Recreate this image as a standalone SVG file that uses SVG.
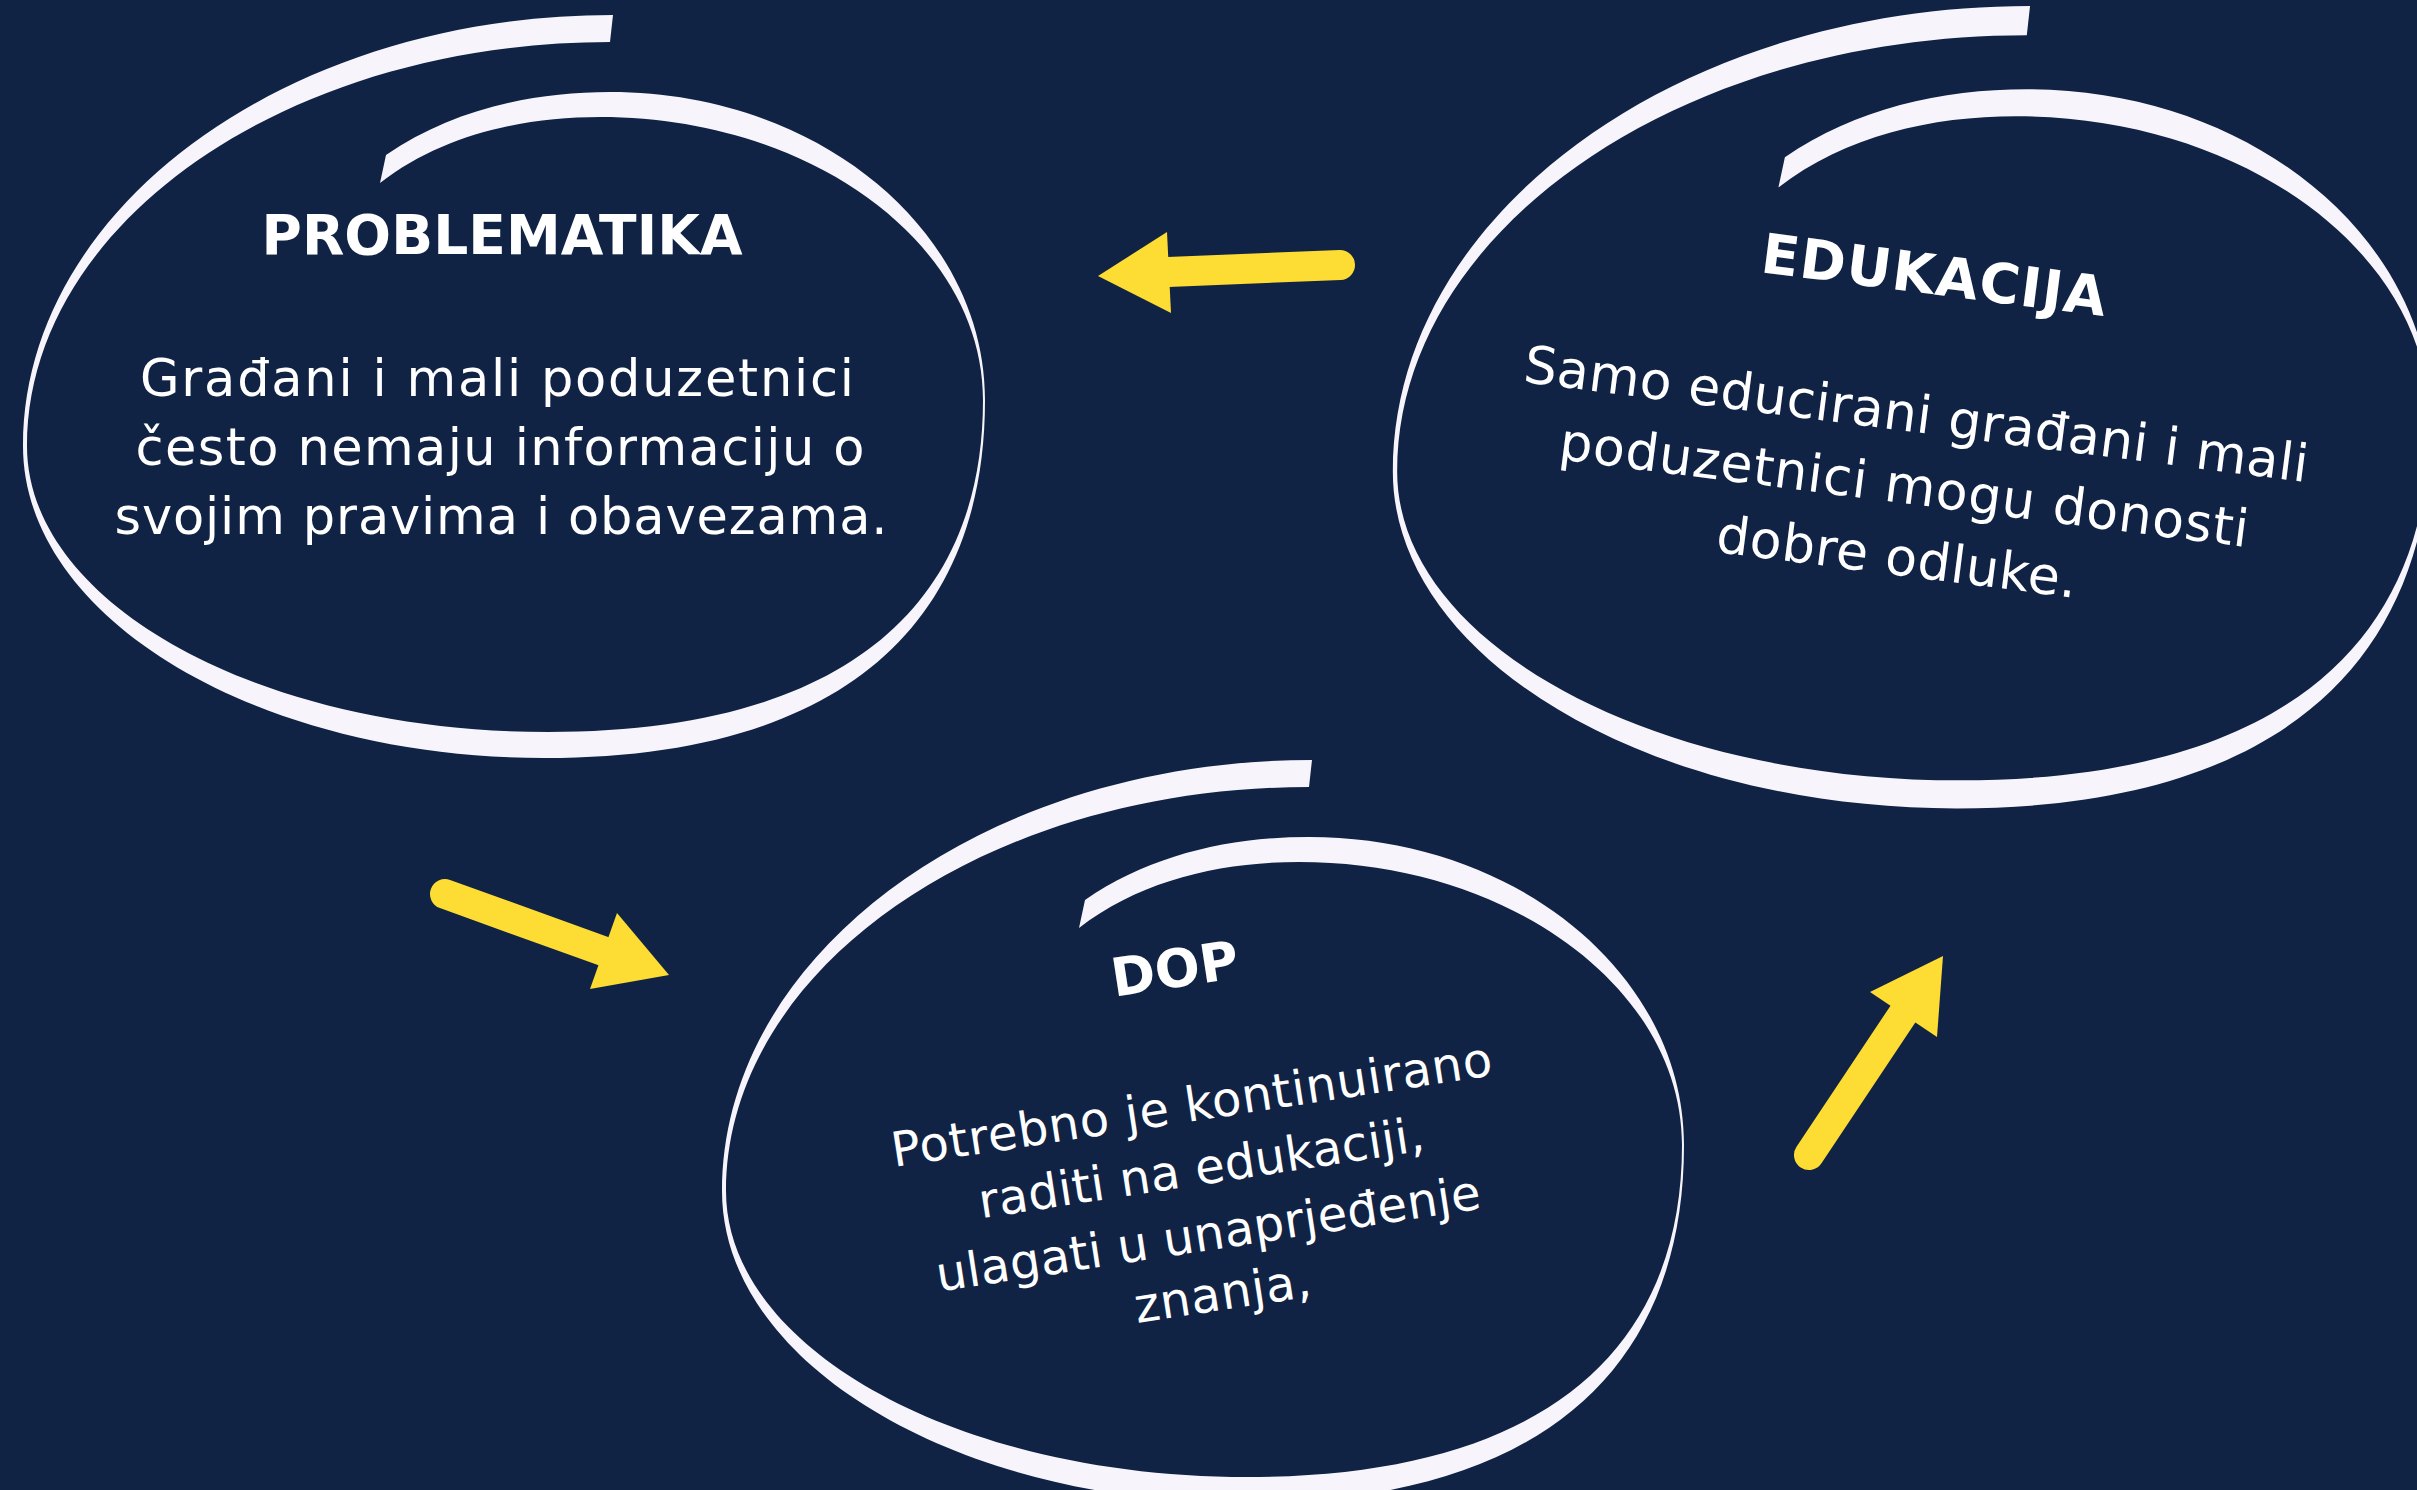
<svg xmlns="http://www.w3.org/2000/svg" xmlns:xlink="http://www.w3.org/1999/xlink" width="2417" height="1490" viewBox="0 0 2417 1490">
<style>
.swirl{fill:#F7F5FB;stroke:none}
.h{font-family:"DejaVu Sans","Liberation Sans",sans-serif;font-weight:bold;font-size:55px;fill:#FFFFFF;text-anchor:middle}
.b{font-family:"DejaVu Sans","Liberation Sans",sans-serif;font-size:51px;fill:#FFFFFF;text-anchor:middle}
.shaft{fill:none;stroke:#FDDC33;stroke-width:30;stroke-linecap:round}
.head{fill:#FDDC33;stroke:none}
</style>
<defs>
<path id="swirl" d="M613,15 C287,15 23,208 23,446 C23,618 257,758 545,758 C831,758 985,633 985,400 C985,231 819,92 610,92 C531,92 451,110 386,155 L380,183 C442,135 522,117 600,117 C811,117 983,244 983,400 C983,616 831,732 548,732 C260,732 27,604 27,446 C27,223 288,42 610,42 Z"/>
</defs>
<rect x="0" y="0" width="2417" height="1490" fill="#112345"/>
<g id="node-problematika">
<use xlink:href="#swirl" class="swirl"/>
<text class="h" x="502" y="254" textLength="481">PROBLEMATIKA</text>
<text class="b" x="497" y="396" textLength="714">Građani i mali poduzetnici</text>
<text class="b" x="500" y="465" textLength="729">često nemaju informaciju o</text>
<text class="b" x="501" y="534" textLength="773">svojim pravima i obavezama.</text>
</g>
<g id="node-edukacija">
<use xlink:href="#swirl" class="swirl" transform="translate(1368,-10.2) scale(1.08)"/>
<g transform="translate(1914,432) rotate(7.3)">
<text class="h" x="0" y="-139" textLength="347">EDUKACIJA</text>
<text class="b" x="0" y="0" textLength="790" style="font-size:52px">Samo educirani građani i mali</text>
<text class="b" x="-3" y="72" textLength="694" style="font-size:52px">poduzetnici mogu donosti</text>
<text class="b" x="-1" y="144" textLength="363" style="font-size:52px">dobre odluke.</text>
</g>
</g>
<g id="node-dop">
<use xlink:href="#swirl" class="swirl" transform="translate(699,745)"/>
<g transform="translate(1194,1121) rotate(-8.7)">
<text class="h" x="4" y="-135" textLength="128" style="font-size:53px">DOP</text>
<text class="b" x="0" y="0" textLength="607" style="font-size:48px">Potrebno je kontinuirano</text>
<text class="b" x="0" y="64" textLength="450" style="font-size:48px">raditi na edukaciji,</text>
<text class="b" x="-3" y="130" textLength="550" style="font-size:48px">ulagati u unaprjeđenje</text>
<text class="b" x="2" y="191" textLength="178" style="font-size:48px">znanja,</text>
</g>
</g>
<g id="connectors">
<path class="shaft" d="M1340,265 L1168,272"/>
<polygon class="head" points="1167,232 1098,276 1171,313"/>
<path class="shaft" d="M445,894 L603,951"/>
<polygon class="head" points="617,913 669,975 590,989"/>
<path class="shaft" d="M1809,1155 L1903,1014"/>
<polygon class="head" points="1870,992 1943,956 1937,1037"/>
</g>
</svg>
